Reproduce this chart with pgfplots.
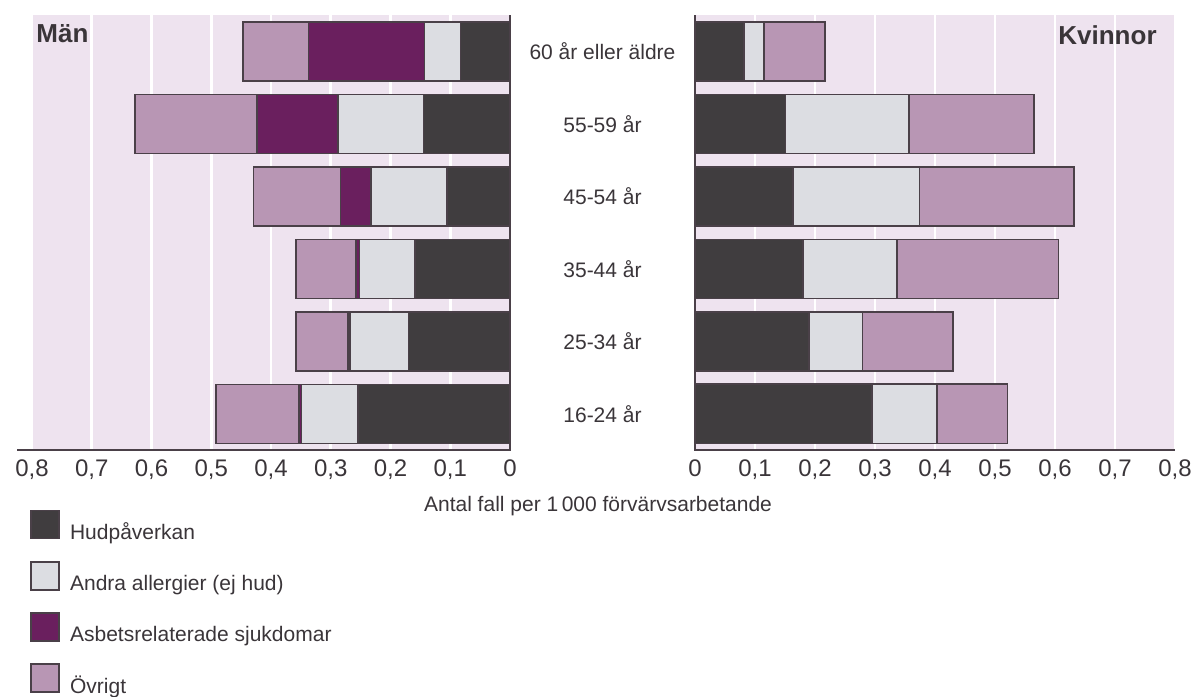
\documentclass[border=0pt]{standalone}
\usepackage{fontspec}
\setmainfont{Liberation Sans}
\usepackage{pgfplots}
\pgfplotsset{compat=1.18}
\definecolor{hud}{HTML}{403D3F}
\definecolor{andra}{HTML}{DCDDE2}
\definecolor{asb}{HTML}{6A1F5E}
\definecolor{ovr}{HTML}{B896B4}
\definecolor{bg}{HTML}{EEE3EF}
\definecolor{edge}{HTML}{4A4048}
\definecolor{txt}{HTML}{3A3539}
\pgfplotsset{
  common/.style={
    scale only axis, height=217.5pt,
    xbar stacked, bar width=29.5pt,
    xmin=0, xmax=0.8, ymin=-0.5, ymax=5.5,
    xtick={0,0.1,0.2,0.3,0.4,0.5,0.6,0.7,0.8},
    ytick={0,1,2,3,4,5},
    axis line style={draw=none},
    major tick length=0pt,
    xmajorgrids, grid style={white, line width=1.3pt},
    axis background/.style={fill=bg},
    clip=false,
    xticklabel style={font=\fontsize{12}{14}\selectfont, text=txt, yshift=-1.4pt},
    /pgf/number format/.cd, use comma, fixed, precision=1, assume math mode=true,
    /pgfplots/.cd,
    every axis plot/.append style={draw=edge, line width=0.75pt},
  },
}
\begin{document}
\begin{tikzpicture}
\useasboundingbox (0,0) rectangle (596pt,348pt);
% Men
\begin{axis}[common, width=239pt, x dir=reverse,
  at={(16pt,123pt)}, anchor=south west,
  yticklabels={},
  legend style={at={(-0.004,-0.136)}, anchor=north west, draw=none, fill=none,
    inner sep=0pt, row sep=7.5pt, column sep=3pt, font=\fontsize{10.5}{12}\selectfont, text=txt,
    cells={anchor=west}},
  legend image code/.code={\draw[#1, draw=edge, line width=0.8pt] (0pt,-3pt) rectangle (14pt,11pt);},
  after end axis/.code={
    \draw[edge, line width=1pt] (axis cs:0.825,-0.5) -- (axis cs:0,-0.5) -- (axis cs:0,5.5);
  }]
\addplot[fill=hud] coordinates {(0.254,0) (0.170,1) (0.159,2) (0.105,3) (0.145,4) (0.083,5)};
\addplot[fill=andra] coordinates {(0.095,0) (0.098,1) (0.093,2) (0.128,3) (0.143,4) (0.060,5)};
\addplot[fill=asb] coordinates {(0.004,0) (0.003,1) (0.006,2) (0.051,3) (0.135,4) (0.194,5)};
\addplot[fill=ovr] coordinates {(0.139,0) (0.087,1) (0.100,2) (0.145,3) (0.205,4) (0.110,5)};
\legend{Hudpåverkan, Andra allergier (ej hud), Asbetsrelaterade sjukdomar, Övrigt}
\end{axis}
% Women
\begin{axis}[common, width=240pt,
  at={(347.5pt,123pt)}, anchor=south west,
  yticklabels={16-24 år, 25-34 år, 35-44 år, 45-54 år, 55-59 år, 60 år eller äldre},
  yticklabel style={anchor=center, xshift=-46.25pt, font=\fontsize{10.5}{12}\selectfont, text=txt},
  after end axis/.code={
    \draw[edge, line width=1pt] (axis cs:0,5.5) -- (axis cs:0,-0.5) -- (axis cs:0.8,-0.5);
  }]
\addplot[fill=hud] coordinates {(0.295,0) (0.190,1) (0.180,2) (0.163,3) (0.151,4) (0.082,5)};
\addplot[fill=andra] coordinates {(0.108,0) (0.089,1) (0.157,2) (0.211,3) (0.206,4) (0.033,5)};
\addplot[fill=ovr] coordinates {(0.118,0) (0.151,1) (0.269,2) (0.258,3) (0.208,4) (0.102,5)};
\end{axis}
\node[anchor=west, font=\fontsize{13}{15}\selectfont\bfseries, text=txt, inner sep=0pt] at (18pt,331pt) {Män};
\node[anchor=east, font=\fontsize{13}{15}\selectfont\bfseries, text=txt, inner sep=0pt] at (578.5pt,330.5pt) {Kvinnor};
\node[font=\fontsize{10.5}{12}\selectfont, text=txt] at (299pt,95pt) {Antal fall per 1\,000 förvärvsarbetande};
\end{tikzpicture}
\end{document}
